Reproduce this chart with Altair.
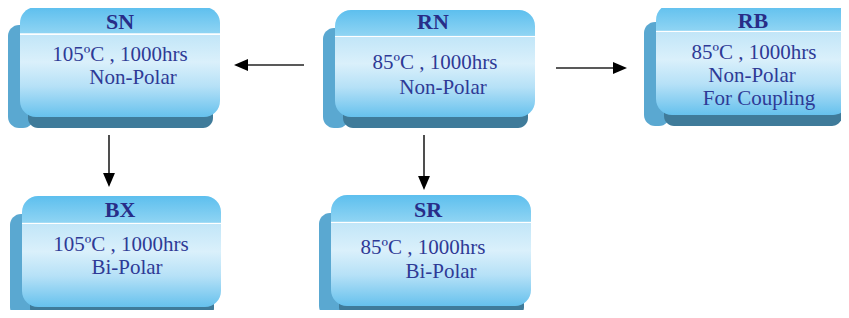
import altair as alt
import pandas as pd

# ---- content ----
box_names = ["SN", "RN", "RB", "BX", "SR"]
box_lines = [
    ["105ºC , 1000hrs", "Non-Polar"],
    ["85ºC , 1000hrs", "Non-Polar"],
    ["85ºC , 1000hrs", "Non-Polar", "For Coupling"],
    ["105ºC , 1000hrs", "Bi-Polar"],
    ["85ºC , 1000hrs", "Bi-Polar"],
]

# ---- layout (image pixel coordinates) ----
box_left = [20, 335, 656, 22, 331]
box_right = [220, 535, 849, 221, 531]
box_top = [7, 10, 4, 196, 195]
box_bottom = [117, 117, 115, 307, 306]

title_x = [120, 433, 753, 120, 428]
title_y = [22, 22, 21, 210, 210]
line_x = [[120, 133], [435, 443], [754, 752, 759], [121, 127], [423, 441]]
line_y = [[55, 78], [63, 88], [53, 76, 99], [245, 268], [248, 272]]

arrow_from = ["RN", "RN", "SN", "RN"]
arrow_to = ["SN", "RB", "BX", "SR"]
arrow_x1 = [304, 556, 109, 424]
arrow_x2 = [248, 614, 109, 424]
arrow_y1 = [65, 68, 135, 135]
arrow_y2 = [65, 68, 174, 177]
head_x = [241, 620, 109, 424]
head_y = [65, 68, 180, 183]
head_angle = [180, 0, 90, 90]

boxes = pd.DataFrame(dict(name=box_names, L=box_left, R=box_right, T=box_top, B=box_bottom))

text_rows = []
for i, n in enumerate(box_names):
    for j, t in enumerate(box_lines[i]):
        text_rows.append(dict(box=n, text=t, x=line_x[i][j], y=line_y[i][j]))
lines = pd.DataFrame(text_rows)
titles = pd.DataFrame(dict(text=box_names, x=title_x, y=title_y))
arrows = pd.DataFrame(dict(src=arrow_from, dst=arrow_to, x1=arrow_x1, x2=arrow_x2,
                           y1=arrow_y1, y2=arrow_y2, hx=head_x, hy=head_y, angle=head_angle))

W, H = 833, 302
xs = alt.Scale(domain=[8, 8 + W], nice=False, zero=False)
ys = alt.Scale(domain=[8, 8 + H], nice=False, zero=False, reverse=True)

base = alt.Chart(boxes)

left_face = base.transform_calculate(
    x1="datum.L - 12", x2="datum.L + 14", y1="datum.T + 18", y2="datum.B + 11"
).mark_rect(cornerRadius=11, color="#5aa8d1").encode(
    x=alt.X("x1:Q", scale=xs, axis=None), x2="x2:Q",
    y=alt.Y("y1:Q", scale=ys, axis=None), y2="y2:Q")

bottom_face = base.transform_calculate(
    x1="datum.L + 8", x2="datum.R - 7", y1="datum.B - 12", y2="datum.B + 11"
).mark_rect(cornerRadius=10, color="#3f7b9a").encode(
    x=alt.X("x1:Q", scale=xs, axis=None), x2="x2:Q",
    y=alt.Y("y1:Q", scale=ys, axis=None), y2="y2:Q")

grad = alt.Gradient(
    gradient="linear", x1=0, x2=0, y1=0, y2=1,
    stops=[
        alt.GradientStop(color="#5dbfee", offset=0.0),
        alt.GradientStop(color="#8fd4f3", offset=0.238),
        alt.GradientStop(color="#ffffff", offset=0.242),
        alt.GradientStop(color="#ffffff", offset=0.252),
        alt.GradientStop(color="#c2e6f8", offset=0.256),
        alt.GradientStop(color="#daf0fb", offset=0.5),
        alt.GradientStop(color="#b6e1f7", offset=0.72),
        alt.GradientStop(color="#66c1ed", offset=1.0),
    ],
)

front = base.mark_rect(cornerRadius=16, fill=grad).encode(
    x=alt.X("L:Q", scale=xs, axis=None), x2="R:Q",
    y=alt.Y("T:Q", scale=ys, axis=None), y2="B:Q")

title_text = alt.Chart(titles).mark_text(
    font="Liberation Serif", fontSize=22, fontWeight="bold", color="#282d88",
    align="center", baseline="middle"
).encode(x=alt.X("x:Q", scale=xs, axis=None), y=alt.Y("y:Q", scale=ys, axis=None), text="text:N")

body_text = alt.Chart(lines).mark_text(
    font="Liberation Serif", fontSize=21, color="#2e3a96",
    align="center", baseline="middle"
).encode(x=alt.X("x:Q", scale=xs, axis=None), y=alt.Y("y:Q", scale=ys, axis=None), text="text:N")

arrow_lines = alt.Chart(arrows).mark_rule(color="#222222", strokeWidth=1.6).encode(
    x=alt.X("x1:Q", scale=xs, axis=None), x2="x2:Q",
    y=alt.Y("y1:Q", scale=ys, axis=None), y2="y2:Q")

arrow_heads = alt.Chart(arrows).mark_point(
    shape="M -1 -0.85 L 1 0 L -1 0.85 Z", filled=True, fill="#000000",
    strokeWidth=0, opacity=1, size=196
).encode(x=alt.X("hx:Q", scale=xs, axis=None), y=alt.Y("hy:Q", scale=ys, axis=None),
         angle=alt.Angle("angle:Q", scale=None))

chart = alt.layer(
    left_face, bottom_face, front, title_text, body_text, arrow_lines, arrow_heads
).properties(
    width=W, height=H, padding=0, background="white",
    autosize=alt.AutoSizeParams(type="none")
).configure_view(stroke=None)

chart.save("out.html", embed_options={"renderer": "svg", "actions": False})
